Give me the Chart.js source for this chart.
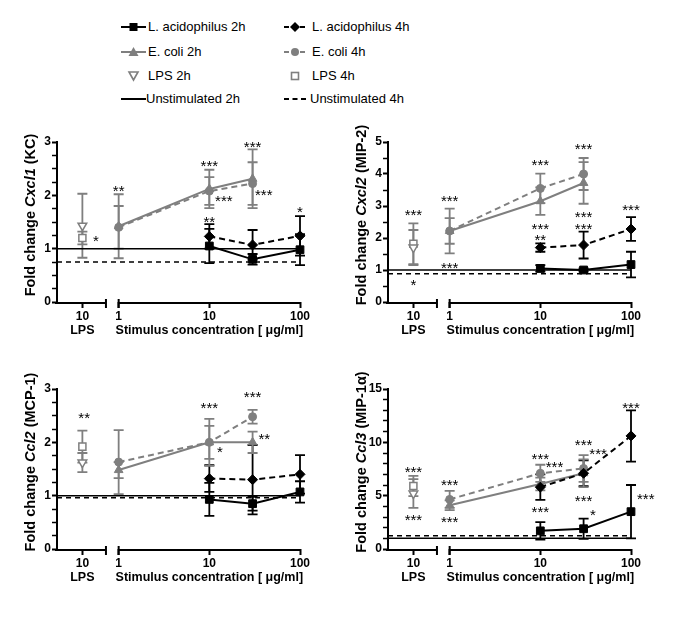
<!DOCTYPE html>
<html>
<head>
<meta charset="utf-8">
<script src="https://cdn.jsdelivr.net/npm/chart.js@4.4.1/dist/chart.umd.min.js"></script>
<style>
  body { margin: 0; background: #fff; }
  #page { position: relative; width: 685px; height: 621px; overflow: hidden; font-family: "Liberation Sans", Arial, sans-serif; }
  #page canvas { position: absolute; }
  .leg { position: absolute; font-size: 13px; line-height: 16px; white-space: nowrap; color: #000; }
  .legsym { position: absolute; }
</style>
</head>
<body>
<div id="page">
  <div id="legend"></div>
  <canvas id="kc" width="340" height="250" style="left:0px;top:116px"></canvas>
  <canvas id="mip2" width="340" height="250" style="left:331px;top:116px"></canvas>
  <canvas id="mcp1" width="340" height="250" style="left:0px;top:363px"></canvas>
  <canvas id="mip1a" width="340" height="250" style="left:331px;top:363px"></canvas>
</div>
<script>
// x axis: log10 of concentration, LPS sits on its own short stretch to the left
const acidoConc = [10, 30, 100];
const ecoliConc = [1, 10, 30];
const LPS_POS = -0.4;
const xTickPos = [LPS_POS, 0, 1, 2];
const xTickLabels = ['10', '1', '10', '100'];

// Cxcl1 (KC)
const kcAcido2h = [1.05, 0.80, 0.98];
const kcAcido2hErr = [0.32, 0.10, 0.29];
const kcAcido4h = [1.23, 1.07, 1.24];
const kcAcido4hErr = [0.23, 0.28, 0.37];
const kcEcoli2h = [1.42, 2.12, 2.31];
const kcEcoli2hErr = [0.60, 0.36, 0.55];
const kcEcoli4h = [1.40, 2.08, 2.22];
const kcEcoli4hErr = [0.40, 0.26, 0.40];
const kcLps = [1.43, 1.20];          // 2h, 4h
const kcLpsErr = [0.60, 0.12];
const kcUnstim = [1.0, 0.75];        // 2h, 4h
const kcStars = [[-0.25, 1.21, '*'], [0, 2.14, '**'], [1, 2.62, '***'], [1.16, 1.96, '***'],
                 [1.477, 2.97, '***'], [1.6, 2.08, '***'], [1, 1.57, '**'], [2, 1.75, '*']];

// Cxcl2 (MIP-2)
const mip2Acido2h = [1.05, 1.00, 1.17];
const mip2Acido2hErr = [0.10, 0.05, 0.40];
const mip2Acido4h = [1.70, 1.78, 2.28];
const mip2Acido4hErr = [0.13, 0.42, 0.37];
const mip2Ecoli2h = [2.22, 3.15, 3.72];
const mip2Ecoli2hErr = [0.70, 0.43, 0.65];
const mip2Ecoli4h = [2.22, 3.55, 4.00];
const mip2Ecoli4hErr = [0.40, 0.46, 0.50];
const mip2Lps = [1.70, 1.82];
const mip2LpsErr = [0.55, 0.64];
const mip2Unstim = [1.0, 0.88];
const mip2Stars = [[-0.4, 2.82, '***'], [-0.4, 0.64, '*'], [0, 3.27, '***'], [0, 1.19, '***'],
                   [1, 4.38, '***'], [1, 2.38, '***'], [1, 2.06, '**'], [1.477, 4.88, '***'],
                   [1.477, 2.77, '***'], [1.477, 2.39, '***'], [2, 2.98, '***']];

// Ccl2 (MCP-1)
const mcp1Acido2h = [0.93, 0.85, 1.07];
const mcp1Acido2hErr = [0.31, 0.13, 0.20];
const mcp1Acido4h = [1.32, 1.30, 1.40];
const mcp1Acido4hErr = [0.25, 0.65, 0.36];
const mcp1Ecoli2h = [1.48, 2.00, 2.00];
const mcp1Ecoli2hErr = [0.15, 0.31, 0.20];
const mcp1Ecoli4h = [1.63, 2.00, 2.48];
const mcp1Ecoli4hErr = [0.60, 0.44, 0.13];
const mcp1Lps = [1.62, 1.92];
const mcp1LpsErr = [0.18, 0.30];
const mcp1Unstim = [1.0, 0.96];
const mcp1Stars = [[-0.38, 2.52, '**'], [1, 2.71, '***'], [1.116, 1.89, '*'],
                   [1.477, 2.91, '***'], [1.606, 2.13, '**']];

// Ccl3 (MIP-1a)
const mip1aAcido2h = [1.7, 1.9, 3.5];
const mip1aAcido2hErr = [0.82, 0.95, 2.5];
const mip1aAcido4h = [5.8, 7.1, 10.6];
const mip1aAcido4hErr = [1.2, 1.2, 2.4];
const mip1aEcoli2h = [4.1, 6.1, 7.1];
const mip1aEcoli2hErr = [0.45, 0.6, 1.3];
const mip1aEcoli4h = [4.65, 7.1, 7.55];
const mip1aEcoli4hErr = [0.8, 0.8, 1.25];
const mip1aLps = [5.2, 5.9];
const mip1aLpsErr = [1.35, 0.95];
const mip1aUnstim = [1.0, 1.25];
const mip1aStars = [[-0.4, 7.6, '***'], [-0.4, 3.1, '***'], [0, 6.35, '***'], [0, 2.9, '***'],
                    [1, 8.78, '***'], [1.156, 8.03, '***'], [1, 3.8, '***'], [1.477, 10.05, '***'],
                    [1.637, 9.2, '***'], [1.477, 4.82, '***'], [1.581, 3.52, '*'],
                    [2, 13.57, '***'], [2.163, 5.07, '***']];

const FONT = '"Liberation Sans", Arial, Helvetica, sans-serif';
const GRAY = '#7f7f7f';
const X_MIN = -0.68, X_MAX = 2, LPS_END = -0.14;

const panels = [
    { id: 'kc', title: ['Fold change ', 'Cxcl1', ' (KC)'], yMax: 3, minor: 0.25, major: 1,
      a2: kcAcido2h, a2e: kcAcido2hErr, a4: kcAcido4h, a4e: kcAcido4hErr,
      e2: kcEcoli2h, e2e: kcEcoli2hErr, e4: kcEcoli4h, e4e: kcEcoli4hErr,
      lps: kcLps, lpsErr: kcLpsErr, unstim: kcUnstim, stars: kcStars },
    { id: 'mip2', title: ['Fold change ', 'Cxcl2', ' (MIP-2)'], yMax: 5, minor: 0.5, major: 1,
      a2: mip2Acido2h, a2e: mip2Acido2hErr, a4: mip2Acido4h, a4e: mip2Acido4hErr,
      e2: mip2Ecoli2h, e2e: mip2Ecoli2hErr, e4: mip2Ecoli4h, e4e: mip2Ecoli4hErr,
      lps: mip2Lps, lpsErr: mip2LpsErr, unstim: mip2Unstim, stars: mip2Stars },
    { id: 'mcp1', title: ['Fold change ', 'Ccl2', ' (MCP-1)'], yMax: 3, minor: 0.25, major: 1,
      a2: mcp1Acido2h, a2e: mcp1Acido2hErr, a4: mcp1Acido4h, a4e: mcp1Acido4hErr,
      e2: mcp1Ecoli2h, e2e: mcp1Ecoli2hErr, e4: mcp1Ecoli4h, e4e: mcp1Ecoli4hErr,
      lps: mcp1Lps, lpsErr: mcp1LpsErr, unstim: mcp1Unstim, stars: mcp1Stars },
    { id: 'mip1a', title: ['Fold change ', 'Ccl3', ' (MIP-1\u03b1)'], yMax: 15, minor: 1, major: 5,
      a2: mip1aAcido2h, a2e: mip1aAcido2hErr, a4: mip1aAcido4h, a4e: mip1aAcido4hErr,
      e2: mip1aEcoli2h, e2e: mip1aEcoli2hErr, e4: mip1aEcoli4h, e4e: mip1aEcoli4hErr,
      lps: mip1aLps, lpsErr: mip1aLpsErr, unstim: mip1aUnstim, stars: mip1aStars }
];

function seriesSet(label, conc, vals, errs, color, dash, style, radius) {
    return {
        label: label,
        data: conc.map((c, i) => ({ x: Math.log10(c), y: vals[i] })),
        errors: errs,
        borderColor: color,
        backgroundColor: color,
        borderWidth: 2,
        borderDash: dash,
        pointStyle: style,
        pointRadius: radius,
        pointBorderWidth: 1,
        pointBackgroundColor: color,
        pointBorderColor: color,
        clip: false
    };
}

function lpsSet(label, val, err, style, rotation) {
    return {
        label: label,
        data: [{ x: LPS_POS, y: val }],
        errors: [err],
        borderColor: GRAY,
        showLine: false,
        pointStyle: style,
        pointRotation: rotation,
        pointRadius: 5,
        pointBorderWidth: 1.5,
        pointBackgroundColor: '#fff',
        pointBorderColor: GRAY,
        clip: false
    };
}

function baseline(label, val, dash) {
    return {
        label: label,
        data: [{ x: X_MIN, y: val }, { x: X_MAX, y: val }],
        borderColor: '#000',
        borderWidth: 1.5,
        borderDash: dash,
        pointRadius: 0,
        clip: false
    };
}

// error bars under the markers
const errorBars = {
    id: 'errorBars',
    beforeDatasetsDraw(chart) {
        const { ctx, scales: { x, y } } = chart;
        chart.data.datasets.forEach(ds => {
            if (!ds.errors) return;
            ctx.save();
            ctx.strokeStyle = ds.borderColor;
            ctx.lineWidth = 1.8;
            ds.data.forEach((pt, i) => {
                const px = x.getPixelForValue(pt.x);
                const top = y.getPixelForValue(pt.y + ds.errors[i]);
                const bot = y.getPixelForValue(pt.y - ds.errors[i]);
                ctx.beginPath();
                ctx.moveTo(px, top); ctx.lineTo(px, bot);
                ctx.moveTo(px - 5, top); ctx.lineTo(px + 5, top);
                ctx.moveTo(px - 5, bot); ctx.lineTo(px + 5, bot);
                ctx.stroke();
            });
            ctx.restore();
        });
    }
};

// broken x axis, axis titles and significance stars
const decorations = {
    id: 'decorations',
    afterDraw(chart, args, opts) {
        const { ctx, chartArea: area, scales: { x, y } } = chart;
        const yb = area.bottom + 1;
        ctx.save();
        ctx.strokeStyle = '#000';
        ctx.lineWidth = 2;
        const xl = x.getPixelForValue(X_MIN) - 2;
        const xe = x.getPixelForValue(LPS_END);
        const x0 = x.getPixelForValue(0);
        const x2 = x.getPixelForValue(X_MAX);
        ctx.beginPath();
        ctx.moveTo(xl, yb); ctx.lineTo(xe, yb);
        ctx.moveTo(xe, yb - 4); ctx.lineTo(xe, yb + 5);
        ctx.moveTo(x0, yb); ctx.lineTo(x2 + 1, yb);
        ctx.moveTo(x0, yb - 4); ctx.lineTo(x0, yb + 5);
        ctx.stroke();

        ctx.fillStyle = '#000';
        ctx.textAlign = 'center';
        ctx.textBaseline = 'middle';
        ctx.font = 'bold 12.5px ' + FONT;
        ctx.fillText('LPS', x.getPixelForValue(LPS_POS), area.bottom + 29);
        ctx.fillText('Stimulus concentration [ \u03bcg/ml]', x.getPixelForValue(1), area.bottom + 29);

        // y title with the gene name in italics
        const parts = opts.title;
        ctx.textAlign = 'left';
        ctx.textBaseline = 'alphabetic';
        const fontFor = i => (i === 1 ? 'italic ' : '') + 'bold 14.5px ' + FONT;
        let total = 0;
        parts.forEach((t, i) => { ctx.font = fontFor(i); total += ctx.measureText(t).width; });
        ctx.translate(area.left - 22, (area.top + area.bottom) / 2 - 7);
        ctx.rotate(-Math.PI / 2);
        let cx = -total / 2;
        parts.forEach((t, i) => { ctx.font = fontFor(i); ctx.fillText(t, cx, 0); cx += ctx.measureText(t).width; });
        ctx.restore();

        ctx.save();
        ctx.fillStyle = '#000';
        ctx.textAlign = 'center';
        ctx.textBaseline = 'alphabetic';
        ctx.font = '15px ' + FONT;
        opts.stars.forEach(s => {
            ctx.fillText(s[2], x.getPixelForValue(s[0]), y.getPixelForValue(s[1]) + 8.6);
        });
        ctx.restore();
    }
};

panels.forEach(p => {
    const isMajor = v => Math.abs(v / p.major - Math.round(v / p.major)) < 1e-6;
    new Chart(document.getElementById(p.id), {
        type: 'line',
        data: {
            datasets: [
                seriesSet('L. acidophilus 2h', acidoConc, p.a2, p.a2e, '#000', [], 'rect', 5.5),
                seriesSet('L. acidophilus 4h', acidoConc, p.a4, p.a4e, '#000', [6, 4], 'rectRot', 5),
                seriesSet('E. coli 2h', ecoliConc, p.e2, p.e2e, GRAY, [], 'triangle', 5),
                seriesSet('E. coli 4h', ecoliConc, p.e4, p.e4e, GRAY, [6, 4], 'circle', 4),
                lpsSet('LPS 2h', p.lps[0], p.lpsErr[0], 'triangle', 180),
                lpsSet('LPS 4h', p.lps[1], p.lpsErr[1], 'rect', 0),
                baseline('Unstimulated 2h', p.unstim[0], []),
                baseline('Unstimulated 4h', p.unstim[1], [5, 4])
            ]
        },
        options: {
            responsive: false,
            devicePixelRatio: 1,
            animation: false,
            layout: { padding: { left: 0, right: 40, top: 26, bottom: 0 } },
            plugins: {
                legend: { display: false },
                tooltip: { enabled: false },
                decorations: { title: p.title, stars: p.stars }
            },
            scales: {
                x: {
                    type: 'linear',
                    min: X_MIN,
                    max: X_MAX,
                    afterBuildTicks(s) { s.ticks = xTickPos.map(v => ({ value: v })); },
                    afterFit(s) { s.height = 64; },
                    border: { display: false },
                    grid: { drawOnChartArea: false, tickLength: 6, tickColor: '#000', tickWidth: 2 },
                    ticks: {
                        autoSkip: false,
                        maxRotation: 0,
                        padding: 1,
                        color: '#000',
                        font: { family: FONT, size: 12, weight: 'bold' },
                        callback: (v, i) => xTickLabels[i]
                    }
                },
                y: {
                    min: 0,
                    max: p.yMax,
                    afterFit(s) { s.width = 57; },
                    border: { color: '#000', width: 2 },
                    grid: {
                        drawOnChartArea: false,
                        tickLength: 5,
                        tickColor: '#000',
                        tickWidth: c => (isMajor(c.tick.value) ? 2 : 1.5)
                    },
                    ticks: {
                        stepSize: p.minor,
                        autoSkip: false,
                        padding: 1,
                        color: '#000',
                        font: { family: FONT, size: 12, weight: 'bold' },
                        callback: v => (isMajor(v) ? String(Math.round(v)) : '')
                    }
                }
            }
        },
        plugins: [errorBars, decorations]
    });
});

// legend in two columns at the top
const legendItems = [
    { text: 'L. acidophilus 2h', col: 0, row: 0, line: '#000', dash: '', mark: 'square', color: '#000' },
    { text: 'E. coli 2h', col: 0, row: 1, line: GRAY, dash: '', mark: 'triangle', color: GRAY },
    { text: 'LPS 2h', col: 0, row: 2, line: null, mark: 'downOpen', color: GRAY },
    { text: 'Unstimulated 2h', col: 0, row: 3, line: '#000', dash: '', mark: null },
    { text: 'L. acidophilus 4h', col: 1, row: 0, line: '#000', dash: '5,3', mark: 'diamond', color: '#000' },
    { text: 'E. coli 4h', col: 1, row: 1, line: GRAY, dash: '5,3', mark: 'circle', color: GRAY },
    { text: 'LPS 4h', col: 1, row: 2, line: null, mark: 'squareOpen', color: GRAY },
    { text: 'Unstimulated 4h', col: 1, row: 3, line: '#000', dash: '5,3.5', mark: null }
];
const legCols = [{ symLeft: 121, symW: 25, textLeft: 148 }, { symLeft: 284, symW: 22, textLeft: 312 }];
const legRows = [27, 51.5, 75.5, 99];

function symbolSvg(it, w) {
    const c = w / 2;
    let s = '<svg width="' + w + '" height="14" viewBox="0 0 ' + w + ' 14">';
    if (it.line) {
        s += '<line x1="0" y1="7" x2="' + w + '" y2="7" stroke="' + it.line + '" stroke-width="2"' +
             (it.dash ? ' stroke-dasharray="' + it.dash + '"' : '') + '/>';
    }
    if (it.mark === 'square') s += '<rect x="' + (c - 4) + '" y="3" width="8" height="8" fill="' + it.color + '"/>';
    if (it.mark === 'diamond') s += '<polygon points="' + c + ',2 ' + (c + 5) + ',7 ' + c + ',12 ' + (c - 5) + ',7" fill="' + it.color + '"/>';
    if (it.mark === 'triangle') s += '<polygon points="' + c + ',2 ' + (c + 5) + ',11 ' + (c - 5) + ',11" fill="' + it.color + '"/>';
    if (it.mark === 'circle') s += '<circle cx="' + c + '" cy="7" r="4" fill="' + it.color + '"/>';
    if (it.mark === 'downOpen') s += '<polygon points="' + (c - 4.5) + ',3 ' + (c + 4.5) + ',3 ' + c + ',11" fill="#fff" stroke="' + it.color + '" stroke-width="1.6"/>';
    if (it.mark === 'squareOpen') s += '<rect x="' + (c - 3.5) + '" y="3.5" width="7" height="7" fill="#fff" stroke="' + it.color + '" stroke-width="1.6"/>';
    return s + '</svg>';
}

const legendBox = document.getElementById('legend');
legendItems.forEach(it => {
    const col = legCols[it.col];
    const yc = legRows[it.row];
    const sym = document.createElement('div');
    sym.className = 'legsym';
    sym.style.left = col.symLeft + 'px';
    sym.style.top = (yc - 7) + 'px';
    sym.innerHTML = symbolSvg(it, col.symW);
    legendBox.appendChild(sym);
    const t = document.createElement('div');
    t.className = 'leg';
    t.style.left = (it.mark ? col.textLeft : col.textLeft - 2) + 'px';
    t.style.top = (yc - 8) + 'px';
    t.textContent = it.text;
    legendBox.appendChild(t);
});
</script>
</body>
</html>
